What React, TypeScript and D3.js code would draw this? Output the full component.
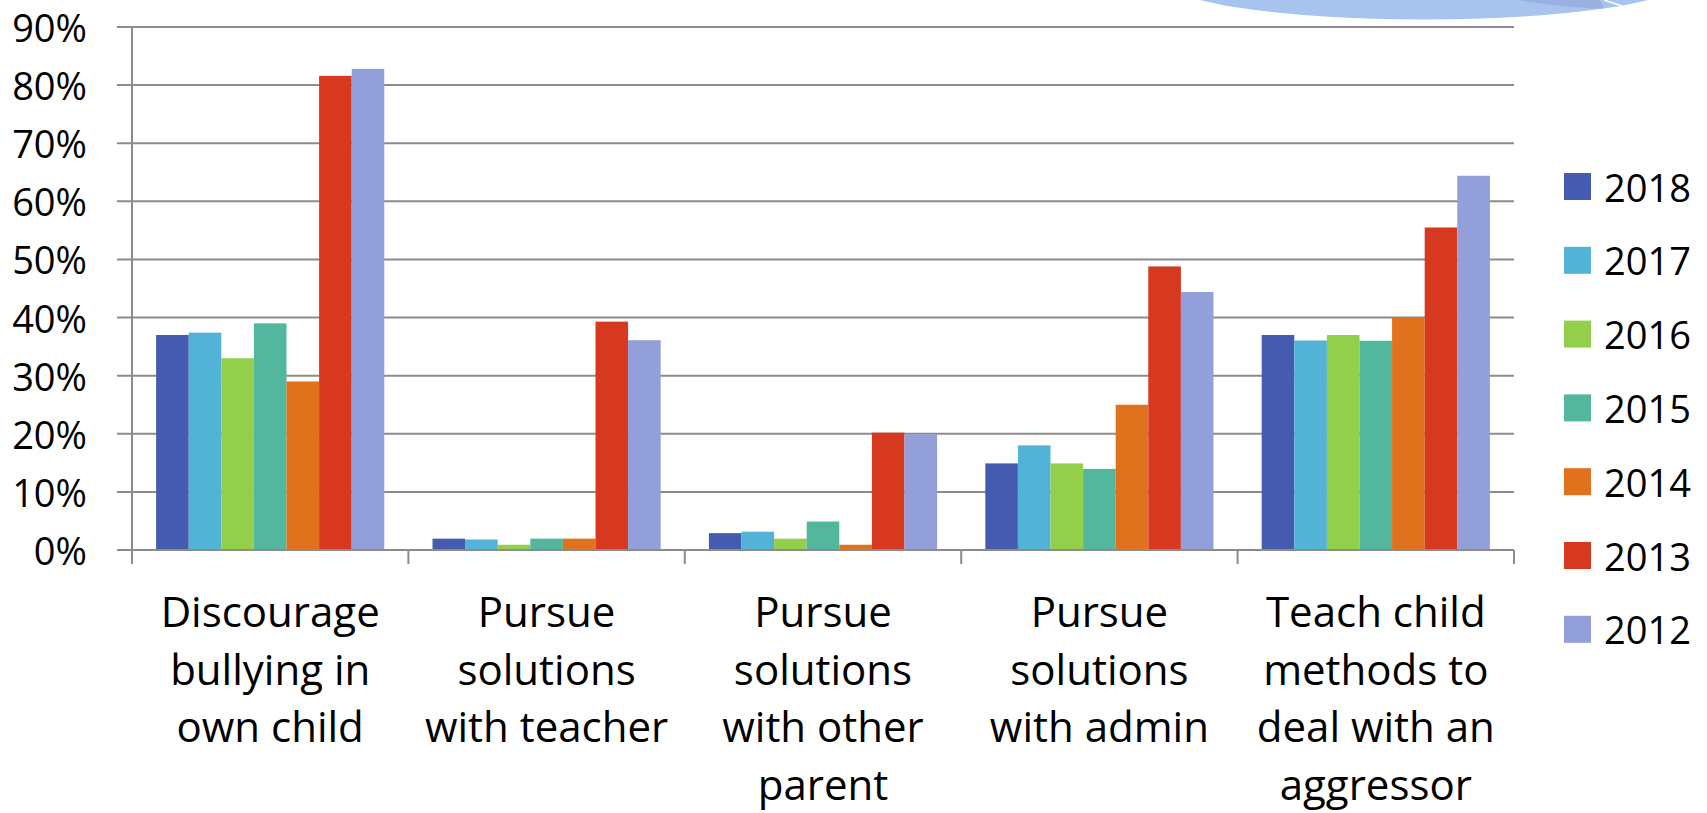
import React from "react";
import * as d3 from "d3";

const categories: string[][] = [
  ["Discourage", "bullying in", "own child"],
  ["Pursue", "solutions", "with teacher"],
  ["Pursue", "solutions", "with other", "parent"],
  ["Pursue", "solutions", "with admin"],
  ["Teach child", "methods to", "deal with an", "aggressor"],
];
const seriesNames = ["2018", "2017", "2016", "2015", "2014", "2013", "2012"];
const seriesColors = ["#445BAF", "#53B3D7", "#94CF4B", "#53B79D", "#E0711D", "#D63920", "#939FD8"];
const v2018 = [0.37, 0.0195, 0.029, 0.149, 0.37];
const v2017 = [0.374, 0.018, 0.0315, 0.18, 0.3605];
const v2016 = [0.33, 0.009, 0.0195, 0.149, 0.37];
const v2015 = [0.39, 0.0195, 0.049, 0.1395, 0.36];
const v2014 = [0.29, 0.0195, 0.009, 0.25, 0.40];
const v2013 = [0.816, 0.393, 0.202, 0.488, 0.555];
const v2012 = [0.828, 0.361, 0.199, 0.444, 0.644];
const seriesValues = [v2018, v2017, v2016, v2015, v2014, v2013, v2012];
const yTicks = [0, 0.1, 0.2, 0.3, 0.4, 0.5, 0.6, 0.7, 0.8, 0.9];

const FONT = "'Open Sans', sans-serif";

export default function App() {
  const W = 1707, H = 813;
  const left = 132, right = 1514, top = 27, bottom = 550;
  const x0 = d3.scaleBand<number>().domain(d3.range(categories.length)).range([left, right]).padding(0);
  const x1 = d3.scaleBand<number>().domain(d3.range(seriesNames.length)).range([0, x0.bandwidth()]).paddingInner(0).paddingOuter(0.74);
  const y = d3.scaleLinear().domain([0, 0.9]).range([bottom, top]);
  const fmt = d3.format(".0%");
  const lineH = 57.6;
  const firstBaseline = 627;
  const legX = 1564, legSize = 27, legY0 = 186.5, legStep = 73.8;

  return (
    <svg width={W} height={H} style={{ display: "block", position: "absolute", left: 0, top: 0 }} fontFamily={FONT}>
      <rect width={W} height={H} fill="#fff" />
      {/* decorative ellipse at top right */}
      <clipPath id="ellclip"><ellipse cx={1424} cy={-20.5} rx={261} ry={40} /></clipPath>
      <ellipse cx={1424} cy={-20.5} rx={261} ry={40} fill="#A7C4EE" />
      <g clipPath="url(#ellclip)">
        <path d="M1515,0 L1600,0 L1604,9 L1560,6 Z" fill="#9AAFE2" />
        <path d="M1604,0 L1622,6" stroke="#fff" strokeWidth={1.5} />
      </g>
      {/* gridlines */}
      {yTicks.map((t) => (
        <line key={t} x1={left - 15} x2={right} y1={y(t)} y2={y(t)} stroke="#8C8C8C" strokeWidth={2} />
      ))}
      {/* bars */}
      {seriesValues.map((vals, si) => (
        <g key={si}>
          {vals.map((v, ci) => (
            <rect key={ci} x={(x0(ci) as number) + (x1(si) as number)} y={y(v)} width={x1.bandwidth()} height={y(0) - y(v)} fill={seriesColors[si]} />
          ))}
        </g>
      ))}
      {/* axis */}
      <line x1={left} x2={left} y1={top} y2={bottom + 14} stroke="#8C8C8C" strokeWidth={2} />
      <line x1={left - 15} x2={right} y1={bottom} y2={bottom} stroke="#8C8C8C" strokeWidth={2} />
      {d3.range(categories.length + 1).map((i) => {
        const xx = i < categories.length ? (x0(i) as number) : right;
        return <line key={i} x1={xx} x2={xx} y1={bottom} y2={bottom + 14} stroke="#8C8C8C" strokeWidth={2} />;
      })}
      {/* y tick labels */}
      {yTicks.map((t) => (
        <text key={t} x={87} y={y(t)} textAnchor="end" dominantBaseline="central" fontSize={38} fill="#000">{fmt(t)}</text>
      ))}
      {/* category labels */}
      {categories.map((lines, ci) => (
        <text key={ci} textAnchor="middle" fontSize={42} fill="#000">
          {lines.map((ln, li) => (
            <tspan key={li} x={(x0(ci) as number) + x0.bandwidth() / 2} y={firstBaseline + li * lineH}>{ln}</tspan>
          ))}
        </text>
      ))}
      {/* legend */}
      {seriesNames.map((n, i) => (
        <g key={n}>
          <rect x={legX} y={legY0 + i * legStep - legSize / 2} width={legSize} height={legSize} fill={seriesColors[i]} />
          <text x={1604} y={legY0 + i * legStep} dominantBaseline="central" fontSize={38} fill="#000">{n}</text>
        </g>
      ))}
    </svg>
  );
}
